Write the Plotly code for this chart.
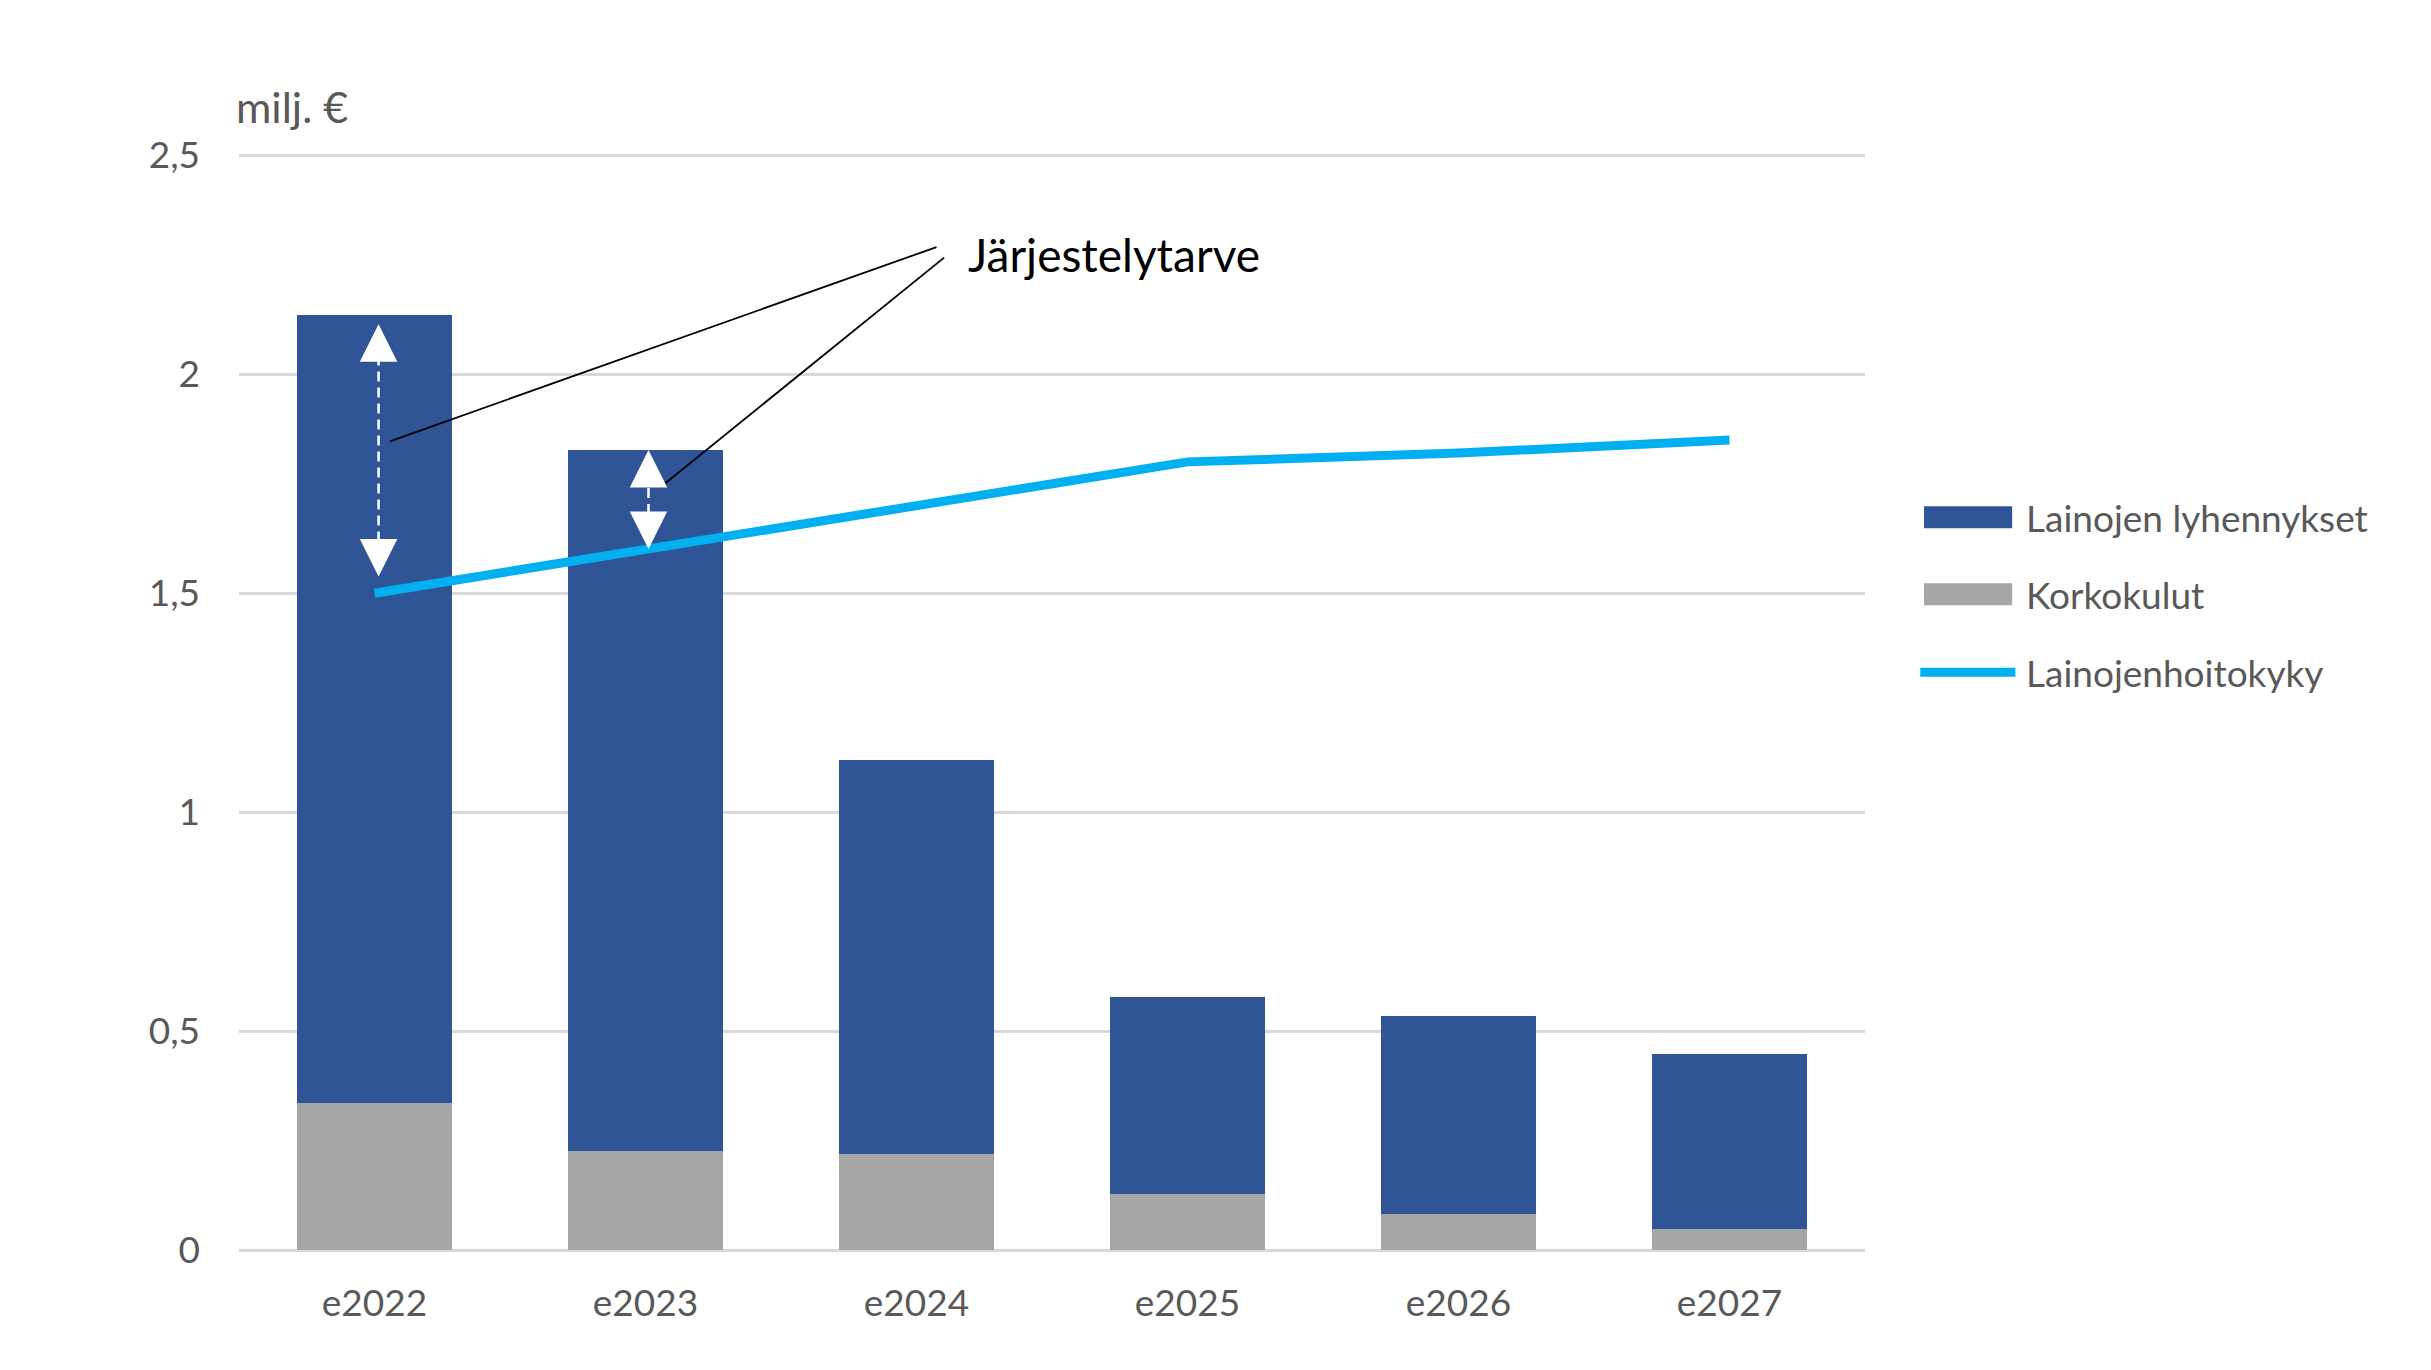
import plotly.graph_objects as go

# ---- data ----
years = ["e2022", "e2023", "e2024", "e2025", "e2026", "e2027"]
korkokulut = [0.335, 0.227, 0.220, 0.128, 0.082, 0.048]
lyhennykset = [1.80, 1.60, 0.90, 0.45, 0.453, 0.40]
hoitokyky = [1.50, 1.60, 1.70, 1.80, 1.82, 1.85]
y_tickvals = [0, 0.5, 1, 1.5, 2, 2.5]
y_ticktext = ["0", "0,5", "1", "1,5", "2", "2,5"]
series_names = ["Lainojen lyhennykset", "Korkokulut", "Lainojenhoitokyky"]
gap_label = "Järjestelytarve"
unit_label = "milj. €"

# ---- style ----
W, H = 2415, 1354
PPU = 438.0                      # pixels per y unit
YMIN, YMAX = 0, 2.51
ML, MR, MB = 231, 558, 112
MT = round(H - MB - PPU * (YMAX - YMIN))
plot_h = H - MT - MB
ppu = plot_h / (YMAX - YMIN)
BLUE = "#2F5597"
GREY = "#A6A6A6"
CYAN = "#00B0F0"
TXT = "#595959"
GRID = "#D9D9D9"
FONT = "Lato"
FS = 37

totals = [k + l for k, l in zip(korkokulut, lyhennykset)]

fig = go.Figure()
fig.add_trace(go.Bar(x=years, y=korkokulut, name=series_names[1],
                     marker=dict(color=GREY, line=dict(width=0))))
fig.add_trace(go.Bar(x=years, y=lyhennykset, name=series_names[0],
                     marker=dict(color=BLUE, line=dict(width=0))))
fig.add_trace(go.Scatter(x=years, y=hoitokyky, name=series_names[2], mode="lines",
                         line=dict(color=CYAN, width=9)))

shapes = []
annotations = []

# double arrows showing the gap (first two years)
arrow_specs = [  # (index, x offset, top standoff px, bottom standoff px)
    (0, 0.015, 9, 16),
    (1, 0.011, 0, 0),
]
HEAD = 26
AW = 2.5
for i, dx, st_top, st_bot in arrow_specs:
    xa = i + dx
    top = totals[i]
    bot = hoitokyky[i] + (hoitokyky[i + 1] - hoitokyky[i]) * dx
    top_tip = top - st_top / ppu
    bot_tip = bot + st_bot / ppu
    shapes.append(dict(type="line", xref="x", yref="y", x0=xa, x1=xa,
                       y0=bot_tip + 3 / ppu, y1=top_tip - 3 / ppu, layer="above",
                       line=dict(color="white", width=AW, dash="10px,6px")))
    for tip, ay in ((top_tip, HEAD), (bot_tip, -HEAD)):
        annotations.append(dict(x=xa, y=tip, xref="x", yref="y", ax=0, ay=ay,
                                text="", showarrow=True, arrowhead=2, arrowwidth=AW,
                                arrowsize=3.0, arrowcolor="white", standoff=0))

# callout lines to the label
callouts = [
    (2.074, 2.2906, 0.0568, 1.847),
    (2.102, 2.2664, 1.056, 1.7427),
]
for x0, y0, x1, y1 in callouts:
    shapes.append(dict(type="line", xref="x", yref="y", x0=x0, y0=y0, x1=x1, y1=y1,
                       layer="above", line=dict(color="black", width=1.8)))

annotations.append(dict(x=2.198, y=2.274, xref="x", yref="y", text=gap_label,
                        showarrow=False, xanchor="left", yanchor="middle", xshift=-4,
                        font=dict(family=FONT, size=46, color="black")))

UNIT_Y = 2.612  # axis units, above the plot area
annotations.append(dict(x=0, y=(UNIT_Y - YMIN) / (YMAX - YMIN),
                        xref="paper", yref="paper", text=unit_label,
                        showarrow=False, xanchor="left", yanchor="middle", xshift=-5,
                        font=dict(family=FONT, size=43, color=TXT)))

# manual legend (y positions in axis units, x in paper units)
leg_items = [
    (series_names[0], "rect", BLUE, 1.6735),
    (series_names[1], "rect", GREY, 1.4977),
    (series_names[2], "line", CYAN, 1.3196),
]
HALF = 11 / ppu
for name, kind, col, yc in leg_items:
    if kind == "rect":
        shapes.append(dict(type="rect", xref="paper", yref="y", x0=1.0363, x1=1.0905,
                           y0=yc - HALF, y1=yc + HALF, fillcolor=col, line=dict(width=0)))
    else:
        shapes.append(dict(type="line", xref="paper", yref="y", x0=1.0340, x1=1.0925,
                           y0=yc, y1=yc, line=dict(color=col, width=9)))
    annotations.append(dict(x=1.0978, y=yc, xref="paper", yref="y",
                            text=name, showarrow=False, xanchor="left", yanchor="middle",
                            font=dict(family=FONT, size=FS, color=TXT)))

fig.update_layout(
    width=W, height=H,
    margin=dict(l=ML, r=MR, t=MT, b=MB, autoexpand=False),
    paper_bgcolor="white", plot_bgcolor="white",
    barmode="stack", bargap=0.43,
    showlegend=False,
    font=dict(family=FONT, size=FS, color=TXT),
    shapes=shapes, annotations=annotations,
    xaxis=dict(showgrid=False, showline=False, ticks="", zeroline=False,
               tickfont=dict(family=FONT, size=FS, color=TXT), ticklabelstandoff=28),
    yaxis=dict(range=[YMIN, YMAX], tickvals=y_tickvals, ticktext=y_ticktext,
               showgrid=True, gridcolor=GRID, gridwidth=2.5,
               zeroline=True, zerolinecolor=GRID, zerolinewidth=2.5,
               showline=False, ticks="", ticklabelstandoff=38,
               tickfont=dict(family=FONT, size=FS, color=TXT)),
)

fig.write_html("out.html")
